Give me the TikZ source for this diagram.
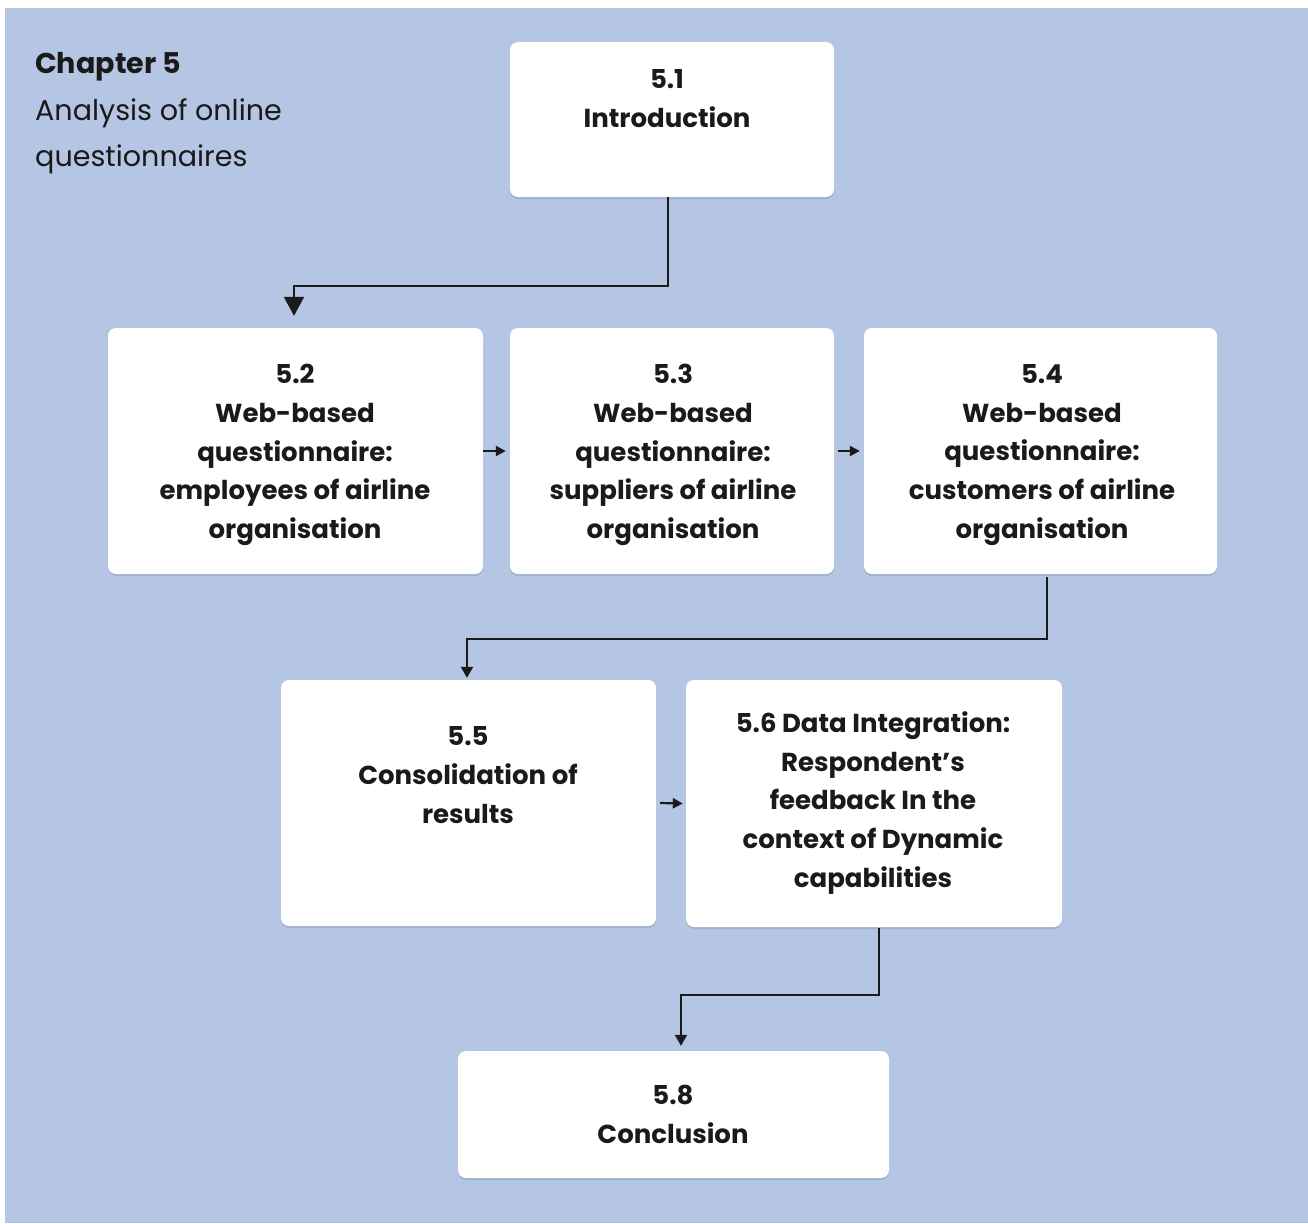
\documentclass[tikz,border=0pt]{standalone}
\usepackage{fontspec}
\setmainfont{Poppins}
\usetikzlibrary{arrows.meta,shadows}
\definecolor{panel}{RGB}{180,198,228}
\definecolor{ink}{RGB}{26,26,26}
\begin{document}
\begin{tikzpicture}[x=1pt,y=-1pt,
  box/.style={fill=white, draw=none, rounded corners=8pt, inner sep=0pt,
    drop shadow={shadow xshift=0pt, shadow yshift=-2pt, fill=black, opacity=0.10}},
  boxtext/.style={align=center, text=ink, inner sep=0pt,
    font=\fontsize{26}{38.7}\selectfont\bfseries},
  titletext/.style={anchor=base west, text=ink, inner sep=0pt,
    font=\fontsize{28.6}{46}\selectfont},
  conn/.style={draw=ink, line width=2.2pt},
  bigtip/.style={conn, -{Triangle[width=20pt,length=19pt]}},
  smalltip/.style={conn, -{Triangle[width=12pt,length=11pt]}},
  sidetip/.style={conn, -{Triangle[width=10pt,length=10pt]}}
]
\useasboundingbox (0,0) rectangle (1308,1223);
\fill[white] (0,0) rectangle (1308,1223);
\fill[panel] (5,8) rectangle (1308,1223);

% chapter heading
\node[titletext, font=\fontsize{28.6}{46}\selectfont\bfseries] (hd1) at (35,74) {Chapter 5};
\node[titletext] (hd2) at (35,120) {Analysis of online};
\node[titletext] (hd3) at (35,166) {questionnaires};

% boxes
\node[box, minimum width=324pt, minimum height=155pt] (s51) at (672,119.5) {};
\node[box, minimum width=375pt, minimum height=246pt] (s52) at (295.5,451) {};
\node[box, minimum width=324pt, minimum height=246pt] (s53) at (672,451) {};
\node[box, minimum width=353pt, minimum height=246pt] (s54) at (1040.5,451) {};
\node[box, minimum width=375pt, minimum height=246pt] (s55) at (468.5,803) {};
\node[box, minimum width=376pt, minimum height=247pt] (s56) at (874,803.5) {};
\node[box, minimum width=431pt, minimum height=127pt] (s58) at (673.5,1114.5) {};

% box texts
\node[boxtext] (t51) at (667,98.5) {5.1\\Introduction};
\node[boxtext] (t52) at (295,455) {5.2\\Web-based\\questionnaire:\\employees of airline\\organisation};
\node[boxtext] (t53) at (673,455) {5.3\\Web-based\\questionnaire:\\suppliers of airline\\organisation};
\node[boxtext] (t54) at (1042,455) {5.4\\Web-based\\questionnaire:\\customers of airline\\organisation};
\node[boxtext] (t55) at (468,775) {5.5\\Consolidation of\\results};
\node[boxtext] (t56) at (873,803) {5.6 Data Integration:\\Respondent’s\\feedback In the\\context of Dynamic\\capabilities};
\node[boxtext] (t58) at (673,1114.5) {5.8\\Conclusion};

% routing levels
\coordinate (r1) at (0,286);
\coordinate (r2) at (0,639);
\coordinate (r3) at (0,995);

% connectors
\draw[bigtip] ([xshift=-4pt]s51.south) -- ([xshift=-4pt]s51.south |- r1)
  -| ([xshift=-1.5pt,yshift=12pt]s52.north);
\draw[sidetip] (s52.east) -- ([xshift=-4pt]s53.west);
\draw[sidetip] ([xshift=4pt]s53.east) -- ([xshift=-4pt]s54.west);
\draw[smalltip] ([xshift=6.5pt,yshift=-3pt]s54.south) -- ([xshift=6.5pt]s54.south |- r2)
  -| ([xshift=-1.5pt,yshift=2pt]s55.north);
\draw[sidetip] ([xshift=4pt]s55.east) -- ([xshift=-3pt]s56.west);
\draw[smalltip] ([xshift=5pt,yshift=-1pt]s56.south) -- ([xshift=5pt]s56.south |- r3)
  -| ([xshift=7.5pt,yshift=5pt]s58.north);
\end{tikzpicture}
\end{document}
